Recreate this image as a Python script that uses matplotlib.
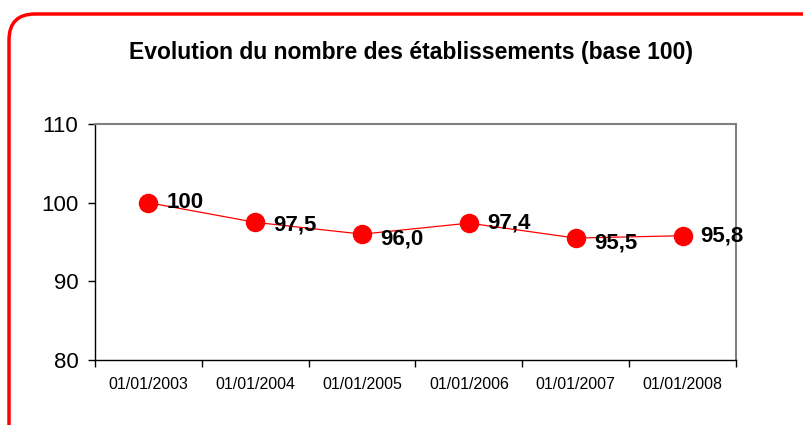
import matplotlib
matplotlib.use("Agg")
import matplotlib.pyplot as plt
from matplotlib.patches import FancyBboxPatch

dates = ["01/01/2003", "01/01/2004", "01/01/2005", "01/01/2006", "01/01/2007", "01/01/2008"]
values = [100, 97.5, 96.0, 97.4, 95.5, 95.8]
labels = ["100", "97,5", "96,0", "97,4", "95,5", "95,8"]
label_dy = [0, -0.3, -0.6, 0, -0.6, 0]

plt.rcParams['font.family'] = ['Liberation Sans', 'DejaVu Sans']

fig = plt.figure(figsize=(8.04, 4.25), dpi=100)
W, H = 804, 425

# background axes in pixel units for the rounded red frame
bg = fig.add_axes([0, 0, 1, 1])
bg.set_xlim(0, W)
bg.set_ylim(H, 0)
bg.axis("off")
bg.add_patch(FancyBboxPatch((9, 14), 830, 450,
                            boxstyle="round,pad=0,rounding_size=26",
                            fill=False, edgecolor="red", linewidth=2.5))

fig.text(411 / W, 1 - 53 / H, "Evolution du nombre des établissements (base 100)",
         ha="center", va="center", fontsize=16.5, fontweight="bold")

ax = fig.add_axes([95 / W, 1 - 360 / H, (736 - 95) / W, (360 - 124) / H])
x = list(range(len(values)))
ax.plot(x, values, color="red", linewidth=0.9, marker="o", markersize=13,
        markerfacecolor="red", markeredgecolor="red", zorder=3)
for xi, v, lab, dy in zip(x, values, labels, label_dy):
    ax.text(xi + 0.17, v + dy, lab, ha="left", va="center", fontsize=16,
            fontweight="bold", zorder=4)

ax.set_xlim(-0.5, len(values) - 0.5)
ax.set_ylim(80, 110)
ax.set_yticks([80, 90, 100, 110])
ax.tick_params(axis="y", labelsize=16, length=5, width=1, direction="out", pad=7)

ax.set_xticks([i - 0.5 for i in range(len(values) + 1)])
ax.set_xticklabels([])
ax.set_xticks(x, minor=True)
ax.set_xticklabels(dates, minor=True)
ax.tick_params(axis="x", which="major", length=5, width=1, direction="out")
ax.tick_params(axis="x", which="minor", length=0, labelsize=11.5, pad=12)

for side in ["left", "bottom"]:
    ax.spines[side].set_color("black")
    ax.spines[side].set_linewidth(1)
for side in ["top", "right"]:
    ax.spines[side].set_color("#808080")
    ax.spines[side].set_linewidth(1.5)

fig.savefig("out.png", dpi=100)
